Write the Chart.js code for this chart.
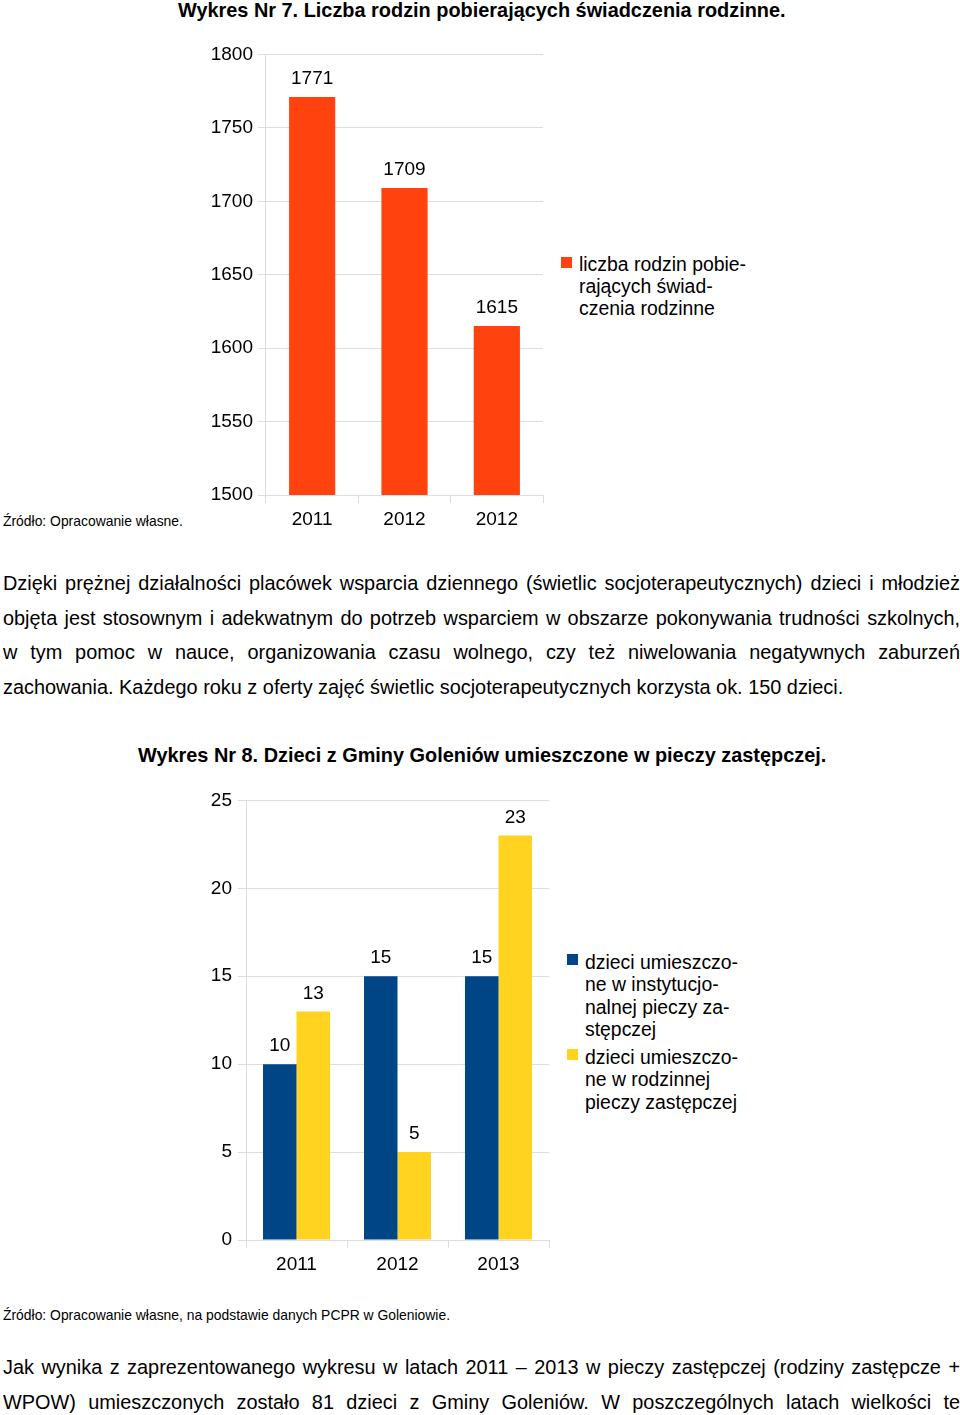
<!DOCTYPE html>
<html lang="pl">
<head>
<meta charset="utf-8">
<script src="https://cdn.jsdelivr.net/npm/chart.js@4/dist/chart.umd.min.js"></script>
<style>
  body { margin: 0; background: #fff; font-family: "Liberation Sans", Arial, sans-serif; color: #000; }
  .page { position: relative; width: 960px; height: 1415px; overflow: hidden; }
  .abs { position: absolute; white-space: nowrap; }
  .title { font-weight: bold; font-size: 19.9px; line-height: 20px; }
  .zrodlo { font-size: 13.9px; line-height: 16px; }
  .para { position: absolute; left: 3px; width: 957px; font-size: 19.9px; }
  .para div { height: 34.5px; line-height: 34.5px; white-space: nowrap; }
  .para .j { text-align: justify; text-align-last: justify; white-space: normal; }
  .legend { position: absolute; font-size: 19.4px; line-height: 22.3px; }
  .sq { position: absolute; width: 11px; height: 11px; }
  .chartbox { position: absolute; }
</style>
</head>
<body>
<div class="page">

<div class="abs title" style="left:178px; top:0px;">Wykres Nr 7. Liczba rodzin pobierających świadczenia rodzinne.</div>

<div class="chartbox" style="left:200px; top:38px; width:350px; height:502px;">
  <canvas id="chartRodziny"></canvas>
</div>
<div class="sq" style="left:561px; top:257px; background:#ff420e;"></div>
<div class="legend" style="left:579px; top:253px; line-height:22px;">liczba rodzin pobie-<br>rających świad-<br>czenia rodzinne</div>

<div class="abs zrodlo" style="left:3px; top:513px;">Źródło: Opracowanie własne.</div>

<div class="para" style="top:566px;">
  <div class="j">Dzięki prężnej działalności placówek wsparcia dziennego (świetlic socjoterapeutycznych) dzieci i młodzież</div>
  <div class="j">objęta jest stosownym i adekwatnym do potrzeb wsparciem w obszarze pokonywania trudności szkolnych,</div>
  <div class="j">w tym pomoc w nauce, organizowania czasu wolnego, czy też niwelowania negatywnych zaburzeń</div>
  <div>zachowania. Każdego roku z oferty zajęć świetlic socjoterapeutycznych korzysta ok. 150 dzieci.</div>
</div>

<div class="abs title" style="left:138px; top:745px;">Wykres Nr 8. Dzieci z Gminy Goleniów umieszczone w pieczy zastępczej.</div>

<div class="chartbox" style="left:180px; top:783px; width:380px; height:502px;">
  <canvas id="chartPiecza"></canvas>
</div>
<div class="sq" style="left:567px; top:954px; background:#004586;"></div>
<div class="legend" style="left:585px; top:951px;">dzieci umieszczo-<br>ne w instytucjo-<br>nalnej pieczy za-<br>stępczej</div>
<div class="sq" style="left:567px; top:1049px; background:#ffd320;"></div>
<div class="legend" style="left:585px; top:1046px;">dzieci umieszczo-<br>ne w rodzinnej<br>pieczy zastępczej</div>

<div class="abs zrodlo" style="left:3px; top:1307px;">Źródło: Opracowanie własne, na podstawie danych PCPR w Goleniowie.</div>

<div class="para" style="top:1350px;">
  <div class="j">Jak wynika z zaprezentowanego wykresu w latach 2011 – 2013 w pieczy zastępczej (rodziny zastępcze +</div>
  <div class="j">WPOW) umieszczonych zostało 81 dzieci z Gminy Goleniów. W poszczególnych latach wielkości te</div>
</div>

</div>

<script>
// Dane - wykres 7
const lataRodziny = ['2011', '2012', '2012'];
const rodzinyWartosci = [1771, 1709, 1615];

// Dane - wykres 8
const lataPiecza = ['2011', '2012', '2013'];
const instytucjonalna = [10, 15, 15];
const rodzinna = [13, 5, 23];

const gridColor = '#dedede';
const tickFont = { family: 'Liberation Sans', size: 19 };

// Etykiety wartości nad słupkami
const valueLabels = {
    id: 'valueLabels',
    afterDatasetsDraw(chart) {
        const ctx = chart.ctx;
        ctx.save();
        ctx.font = '19px "Liberation Sans"';
        ctx.fillStyle = '#000';
        ctx.textAlign = 'center';
        ctx.textBaseline = 'middle';
        chart.data.datasets.forEach((ds, i) => {
            chart.getDatasetMeta(i).data.forEach((bar, j) => {
                ctx.fillText(String(ds.data[j]), bar.x, bar.y - 18);
            });
        });
        ctx.restore();
    }
};

function makeScales(yMin, yMax, step, yPad, nCat) {
    return {
        x: {
            afterFit: (s) => { s.height = 45; },
            grid: {
                offset: true,
                color: (c) => (c.index === 0 || c.index === nCat) ? gridColor : 'rgba(0,0,0,0)',
                tickColor: gridColor,
                tickLength: 8
            },
            border: { display: false },
            ticks: { color: '#000', font: tickFont, padding: 5 }
        },
        y: {
            min: yMin,
            max: yMax,
            afterFit: (s) => { s.width = 66; },
            grid: { color: gridColor, tickColor: gridColor, tickLength: 8 },
            border: { display: false },
            ticks: {
                stepSize: step,
                color: '#000',
                font: tickFont,
                padding: yPad,
                callback: (v) => String(v)
            }
        }
    };
}

new Chart(document.getElementById('chartRodziny'), {
    type: 'bar',
    data: {
        labels: lataRodziny,
        datasets: [{
            label: 'liczba rodzin pobierających świadczenia rodzinne',
            data: rodzinyWartosci,
            backgroundColor: '#ff420e',
            barPercentage: 1,
            categoryPercentage: 0.5
        }]
    },
    options: {
        responsive: true,
        maintainAspectRatio: false,
        animation: false,
        layout: { padding: { top: 11, right: 7, left: 0, bottom: 0 } },
        plugins: { legend: { display: false }, tooltip: { enabled: false } },
        scales: makeScales(1500, 1800, 50, 5, 3)
    },
    plugins: [valueLabels]
});

new Chart(document.getElementById('chartPiecza'), {
    type: 'bar',
    data: {
        labels: lataPiecza,
        datasets: [{
            label: 'dzieci umieszczone w instytucjonalnej pieczy zastępczej',
            data: instytucjonalna,
            backgroundColor: '#004586',
            barPercentage: 1,
            categoryPercentage: 0.663
        }, {
            label: 'dzieci umieszczone w rodzinnej pieczy zastępczej',
            data: rodzinna,
            backgroundColor: '#ffd320',
            barPercentage: 1,
            categoryPercentage: 0.663
        }]
    },
    options: {
        responsive: true,
        maintainAspectRatio: false,
        animation: false,
        layout: { padding: { top: 11, right: 11, left: 0, bottom: 0 } },
        plugins: { legend: { display: false }, tooltip: { enabled: false } },
        scales: makeScales(0, 25, 5, 6, 3)
    },
    plugins: [valueLabels]
});
</script>
</body>
</html>
